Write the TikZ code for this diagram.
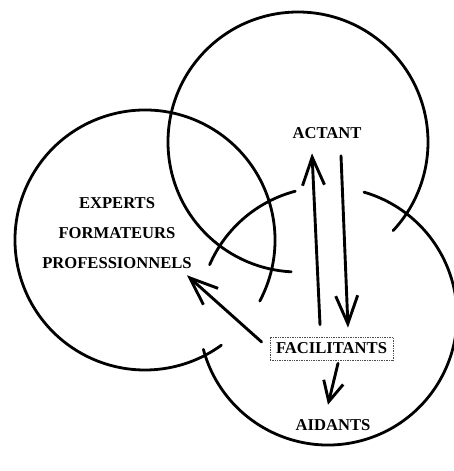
\documentclass[tikz,border=0pt]{standalone}
\usepackage{fontspec}
\setmainfont{Liberation Serif}
\usepackage{tikz}
\usetikzlibrary{arrows.meta,positioning}

\begin{document}
\begin{tikzpicture}[
                x=1pt, y=-1pt,
                font=\bfseries\fontsize{16.6}{30}\selectfont,
                ring/.style={line width=2.8pt, line cap=round},
                lbl/.style={inner sep=0pt, align=center},
                arr/.style={-{Straight Barb[length=28pt,width=22pt]}, line width=2.9pt, line cap=round},
                shortarr/.style={-{Straight Barb[length=20pt,width=20pt]}, line width=2.9pt, line cap=round},
            ]
            \useasboundingbox (0,0) rectangle (453,471);
            % three rings, left open where they pass under
            \draw[ring] (298,142) ++(43:130) arc[start angle=43, end angle=-267, radius=130];
            \draw[ring] (145,240) ++(28:130) arc[start angle=28, end angle=-306, radius=130];
            \draw[ring] (328,316) ++(-104.7:129) arc[start angle=-104.7, end angle=-156.6, radius=129];
            \draw[ring] (328,316) ++(165:129) arc[start angle=165, end angle=-73.8, radius=129];

            \node[lbl] (actant) at (327,133) {ACTANT};
            \node[lbl] (experts) at (117,233) {EXPERTS\\FORMATEURS\\PROFESSIONNELS};
            \node[lbl, draw=black!70, densely dotted, line width=0.7pt, inner xsep=6pt, minimum height=23pt] (facil) at (331.5,348.5) {FACILITANTS};
            \node[lbl] (aidants) at (333,425) {AIDANTS};

            \draw[arr] ([xshift=-11.5pt,yshift=12pt]facil.north) -- ([xshift=-15pt,yshift=-14.5pt]actant.south);
            \draw[arr] ([xshift=14pt,yshift=-17pt]actant.south) -- ([xshift=16.5pt,yshift=9pt]facil.north);
            \draw[arr] ([xshift=-8pt,yshift=6.5pt]facil.west) -- ([xshift=-5pt,yshift=-6.5pt]experts.south east);
            \draw[shortarr] ([xshift=6.5pt,yshift=-3pt]facil.south) -- ([xshift=-5pt,yshift=14.5pt]aidants.north);
        \end{tikzpicture}
\end{document}
